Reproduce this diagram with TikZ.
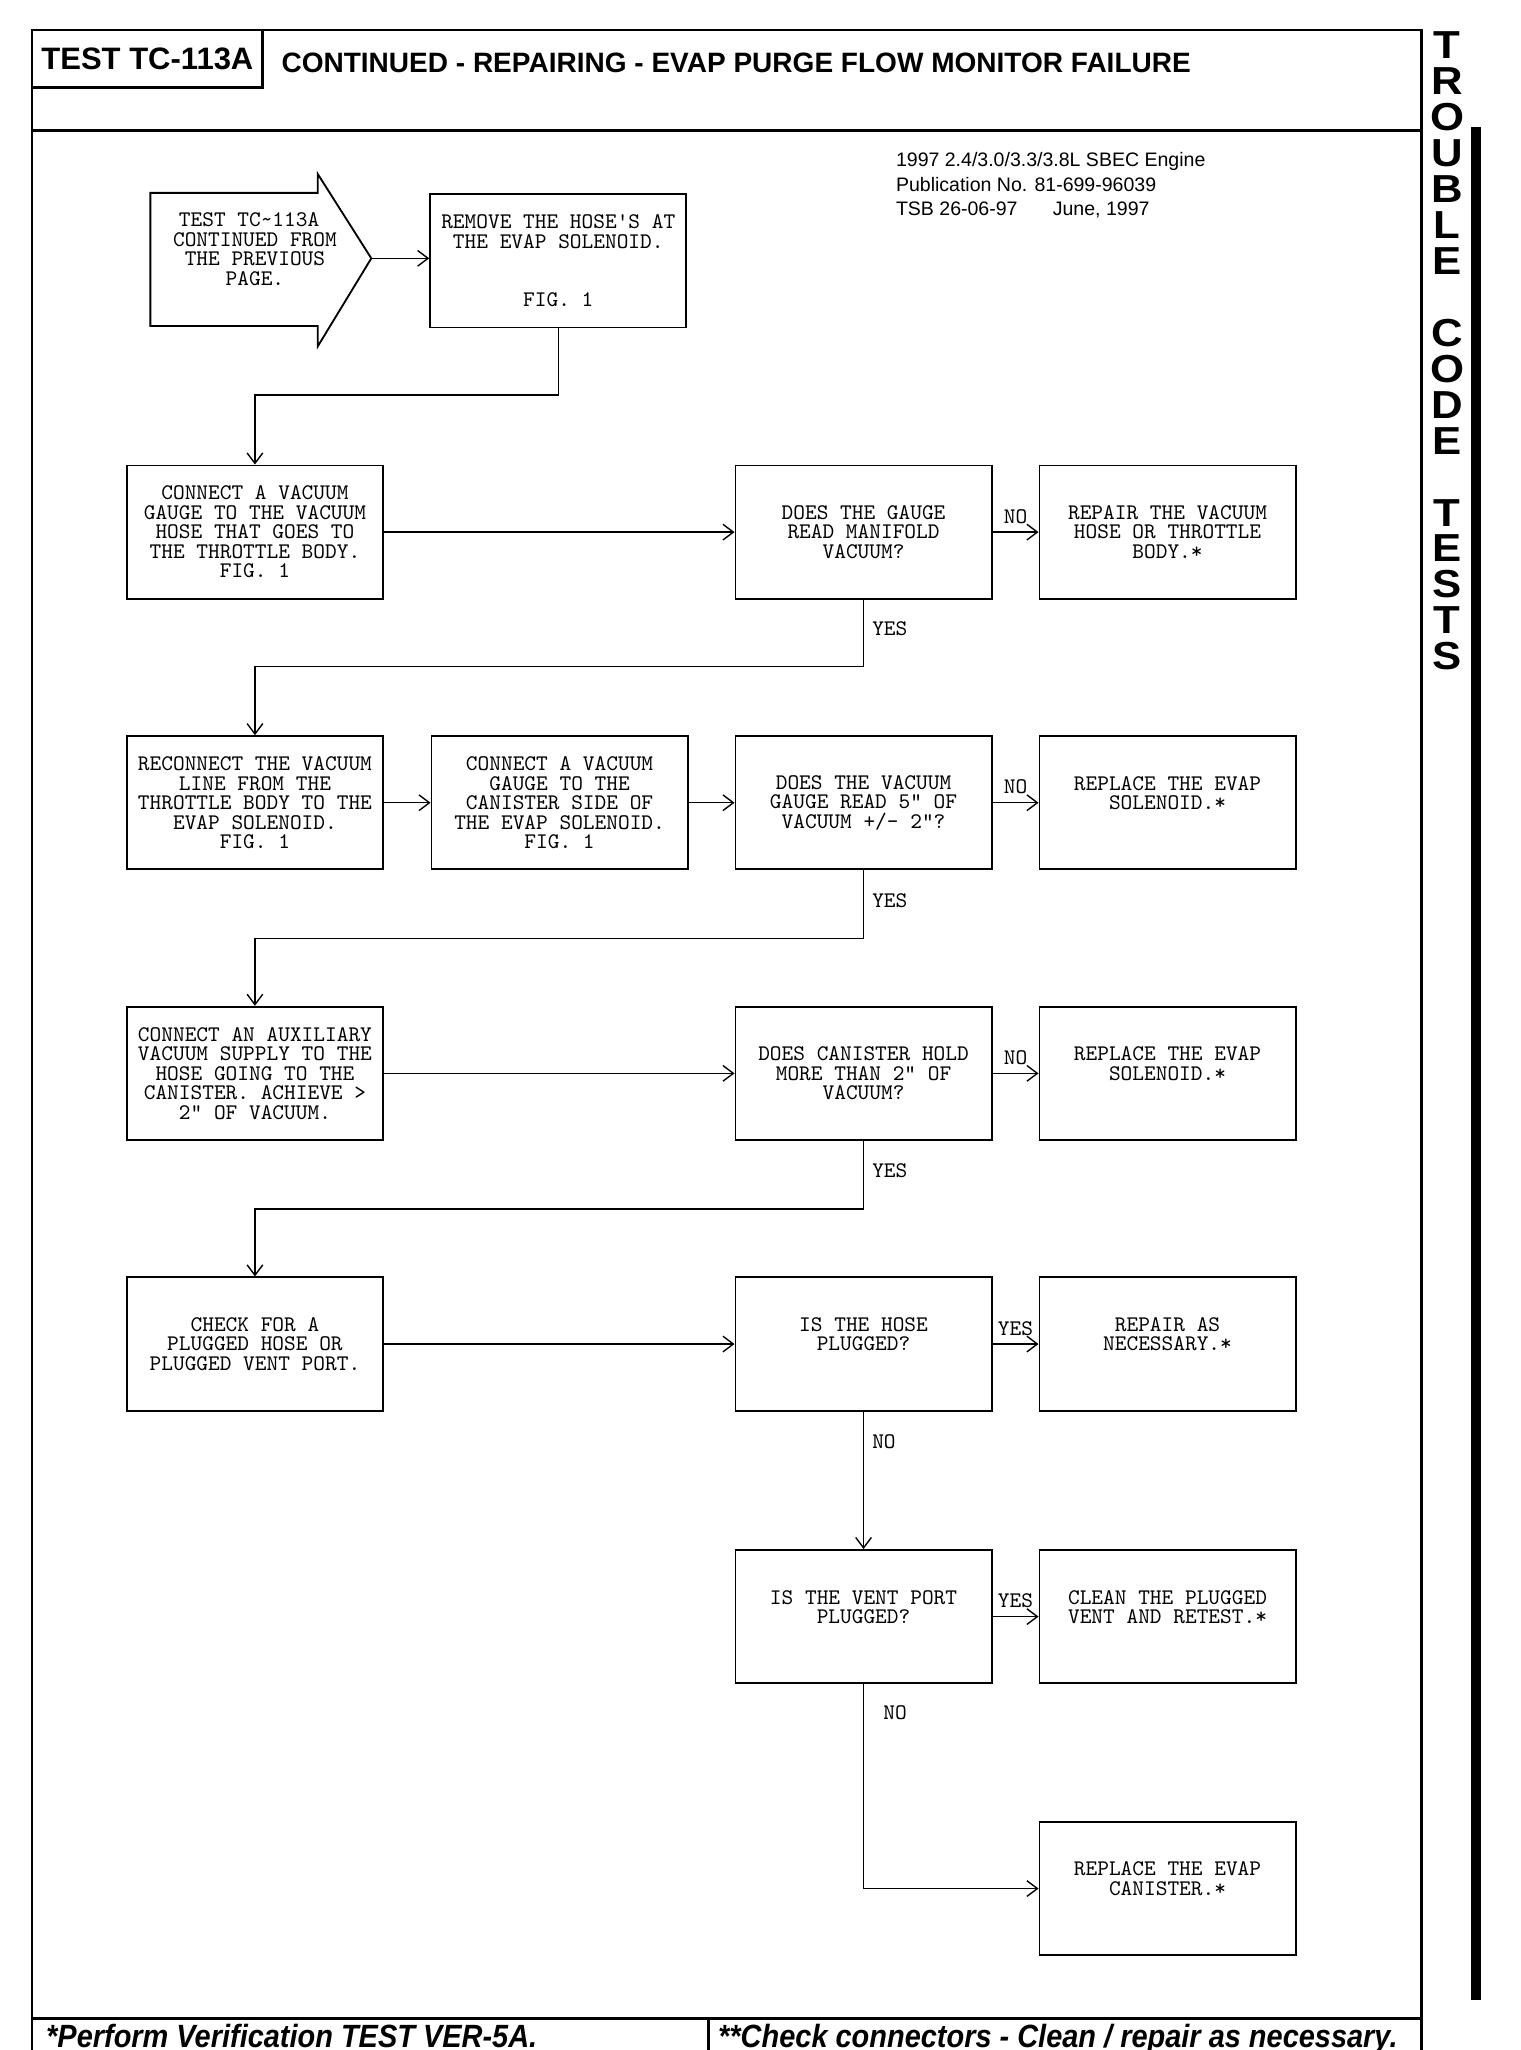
\documentclass[tikz,border=0pt]{standalone}
\usepackage{fontspec}
\setmainfont{Liberation Sans}
\newfontfamily\footfont[FakeStretch=0.9]{Liberation Sans}
\newfontfamily\sidefont[FakeStretch=1.12]{Liberation Sans}
\usetikzlibrary{arrows.meta}

\begin{document}
\begin{tikzpicture}[x=0.02cm,y=-0.02cm,
    >={Straight Barb[length=1.6mm,width=2.4mm]},
    frame/.style={line width=1.2pt},
    wire/.style={line width=0.6pt,->},
    lbl/.style={font=\ttfamily\fontsize{9.7}{8.5}\selectfont,inner sep=3.5pt}]
    \useasboundingbox (0,0) rectangle (1163,1568);
    \clip (0,0) rectangle (1163,1568);

    % page frame
    \draw[frame] (24.5,1568) -- (24.5,23) -- (1087,23) -- (1087,1568);
    \draw[frame] (24.5,100) -- (1087,100);
    \draw[frame] (24.5,1544) -- (1087,1544);
    \draw[frame] (542,1544) -- (542,1568);
    \node[draw,frame,minimum width=3.53cm,minimum height=0.88cm,inner sep=0pt,
      font=\bfseries\fontsize{13.5}{14}\selectfont] (tcode) at (112.75,45) {TEST TC-113A};
    \node[anchor=west,inner sep=0pt,font=\bfseries\fontsize{12.2}{14}\selectfont]
      (ttl) at (215,48) {CONTINUED - REPAIRING - EVAP PURGE FLOW MONITOR FAILURE};
    \node[anchor=north west,align=left,inner sep=0pt,font=\fontsize{8.5}{10.8}\selectfont]
      (pub) at (685,116) {1997 2.4/3.0/3.3/3.8L SBEC Engine\\
      Publication No. 81-699-96039\\\makebox[2.4cm][l]{TSB 26-06-97}June, 1997};
    \node[anchor=north,align=center,inner sep=0pt,font=\sidefont\bfseries\fontsize{17}{15.65}\selectfont]
      (side) at (1107,24) {T\\R\\O\\U\\B\\L\\E\\~\\C\\O\\D\\E\\~\\T\\E\\S\\T\\S};
    \fill (1125,97) rectangle (1133,1530);
    \node[anchor=base west,inner sep=0pt,font=\footfont\bfseries\itshape\fontsize{14}{16}\selectfont]
      (ver) at (35,1566) {*Perform Verification TEST VER-5A.};
    \node[anchor=base west,inner sep=0pt,font=\footfont\bfseries\itshape\fontsize{14}{16}\selectfont]
      (chk) at (549,1566) {**Check connectors - Clean / repair as necessary.};

    % entry arrow
    \draw[line width=0.8pt] (115,147.5) -- (243,147.5) -- (243,133) -- (284,197.6)
      -- (243,265) -- (243,249.4) -- (115,249.4) -- cycle;
    \node[align=center,inner sep=0pt,font=\ttfamily\fontsize{9.7}{8.5}\selectfont]
      (start) at (195,190.5) {\mbox{TEST TC\textasciitilde113A\ }\\CONTINUED FROM\\THE PREVIOUS\\PAGE.};
    \coordinate (tip) at (284,197.6);

    \begin{scope}[minimum width=3.92cm,minimum height=2.04cm,align=center,inner sep=0pt,
        font=\ttfamily\fontsize{9.7}{8.5}\selectfont]
      \tikzstyle{every node}=[draw,line width=0.8pt]
      \node (b1) at (427,199.5) {REMOVE THE HOSE'S AT\\THE EVAP SOLENOID.\\\mbox{}\\\mbox{}\\FIG. 1};
      \node (c1) at (195,407) {CONNECT A VACUUM\\GAUGE TO THE VACUUM\\HOSE THAT GOES TO\\THE THROTTLE BODY.\\FIG. 1};
      \node (d1) at (660.5,407) {DOES THE GAUGE\\READ MANIFOLD\\VACUUM?};
      \node (r1) at (893,407) {REPAIR THE VACUUM\\HOSE OR THROTTLE\\BODY.*};
      \node (c2) at (195,614) {RECONNECT THE VACUUM\\LINE FROM THE\\THROTTLE BODY TO THE\\EVAP SOLENOID.\\FIG. 1};
      \node (c3) at (428,614) {CONNECT A VACUUM\\GAUGE TO THE\\CANISTER SIDE OF\\THE EVAP SOLENOID.\\FIG. 1};
      \node (d2) at (660.5,614) {DOES THE VACUUM\\GAUGE READ 5" OF\\VACUUM +/- 2"?};
      \node (r2) at (893,614) {REPLACE THE EVAP\\SOLENOID.*\\\mbox{}};
      \node (c4) at (195,821) {CONNECT AN AUXILIARY\\VACUUM SUPPLY TO THE\\HOSE GOING TO THE\\CANISTER. ACHIEVE >\\2" OF VACUUM.};
      \node (d3) at (660.5,821) {DOES CANISTER HOLD\\MORE THAN 2" OF\\VACUUM?};
      \node (r3) at (893,821) {REPLACE THE EVAP\\SOLENOID.*\\\mbox{}};
      \node (c5) at (195,1028) {CHECK FOR A\\PLUGGED HOSE OR\\PLUGGED VENT PORT.};
      \node (d4) at (660.5,1028) {IS THE HOSE\\PLUGGED?\\\mbox{}};
      \node (r4) at (893,1028) {REPAIR AS\\NECESSARY.*\\\mbox{}};
      \node (d5) at (660.5,1236.5) {IS THE VENT PORT\\PLUGGED?\\\mbox{}};
      \node (r5) at (893,1236.5) {CLEAN THE PLUGGED\\VENT AND RETEST.*\\\mbox{}};
      \node (r6) at (893,1444.5) {REPLACE THE EVAP\\CANISTER.*\\\mbox{}};
    \end{scope}

    \draw[wire] (tip) -- (tip -| b1.west);
    \draw[wire] (b1.south) -- ++(0,51) -| (c1.north);
    \draw[wire] (c1) -- (d1);
    \draw[wire] (d1) -- node[lbl,above] (no1) {NO} (r1);
    \draw[wire] (d1.south) -- node[lbl,right,pos=0.43] (yes1) {YES} ++(0,51) -| (c2.north);
    \draw[wire] (c2) -- (c3);
    \draw[wire] (c3) -- (d2);
    \draw[wire] (d2) -- node[lbl,above] (no2) {NO} (r2);
    \draw[wire] (d2.south) -- node[lbl,right,pos=0.44] (yes2) {YES} ++(0,52) -| (c4.north);
    \draw[wire] (c4) -- (d3);
    \draw[wire] (d3) -- node[lbl,above] (no3) {NO} (r3);
    \draw[wire] (d3.south) -- node[lbl,right,pos=0.44] (yes3) {YES} ++(0,52) -| (c5.north);
    \draw[wire] (c5) -- (d4);
    \draw[wire] (d4) -- node[lbl,above] (yes4) {YES} (r4);
    \draw[wire] (d4.south) -- node[lbl,right,pos=0.22] (no4) {NO} (d5.north);
    \draw[wire] (d5) -- node[lbl,above] (yes5) {YES} (r5);
    \draw[line width=0.6pt] (d5.south) -- node[lbl,right,pos=0.14,xshift=0.17cm] (no5) {NO} (d5.south |- r6.west);
    \draw[wire] (d5.south |- r6.west) -- (r6.west);
  \end{tikzpicture}
\end{document}
